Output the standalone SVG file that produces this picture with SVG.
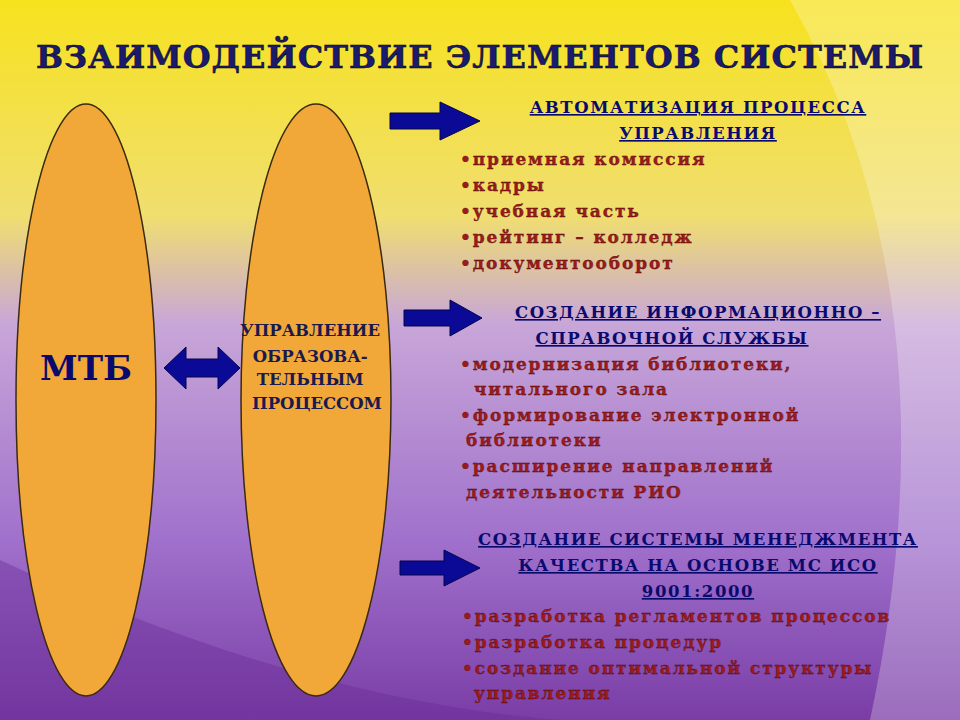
<svg xmlns="http://www.w3.org/2000/svg" width="960" height="720" viewBox="0 0 960 720">
<defs>
<linearGradient id="bg" x1="0" y1="0" x2="0" y2="1">
<stop offset="0" stop-color="#f7e21e"/>
<stop offset="0.3" stop-color="#f0de70"/>
<stop offset="0.45" stop-color="#c8a6d8"/>
<stop offset="0.75" stop-color="#a071cc"/>
<stop offset="1" stop-color="#7a3da6"/>
</linearGradient>
<style>
.ov{fill:#f2a838;stroke:#3a2a10;stroke-width:1.5}
.t{font-family:"DejaVu Serif",serif;font-weight:bold}
.h{font-family:"DejaVu Serif",serif;font-weight:bold;font-size:16.5px;letter-spacing:1.6px;fill:#0a0a6e;text-decoration:underline;text-anchor:middle}
.b{font-family:"DejaVu Serif",serif;font-weight:bold;font-size:17px;letter-spacing:1.9px;fill:#9e1a1a;stroke:#4a0a0a;stroke-width:0.3}
.ar{fill:#0a0a96;stroke:#05054a;stroke-width:1}
</style>
</defs>
<rect width="960" height="720" fill="url(#bg)"/>
<path d="M790 0 Q960 300 870 720 L960 720 L960 0 Z" fill="#ffffff" opacity="0.25"/>
<path d="M0 560 Q300 700 560 720 L0 720 Z" fill="#6a2a96" opacity="0.4"/>
<text class="t" x="480" y="68" font-size="32" letter-spacing="1" fill="#1a1a6e" text-anchor="middle" stroke="#000" stroke-width="0.5">ВЗАИМОДЕЙСТВИЕ ЭЛЕМЕНТОВ СИСТЕМЫ</text>
<g id="mtb">
<ellipse class="ov" cx="86" cy="400" rx="70" ry="296"/>
<text class="t" x="86" y="380" font-size="34" fill="#0a0a6e" text-anchor="middle">МТБ</text>
</g>
<g id="upr">
<ellipse class="ov" cx="316" cy="400" rx="75" ry="296"/>
<text class="t" font-size="16.5" fill="#1a1a4e" text-anchor="middle">
<tspan x="313" y="336">УПРАВЛЕНИЕ</tspan>
<tspan x="313" y="362">ОБРАЗОВА-</tspan>
<tspan x="313" y="385">ТЕЛЬНЫМ</tspan>
<tspan x="317" y="409">ПРОЦЕССОМ</tspan>
</text>
</g>
<g id="connectors">
<polygon class="ar" points="164,368 186,347 186,359 218,359 218,347 240,368 218,389 218,377 186,377 186,389"/>
<polygon class="ar" points="390,113 440,113 440,102 480,121 440,140 440,129 390,129"/>
<polygon class="ar" points="404,310 450,310 450,300 482,318 450,336 450,326 404,326"/>
<polygon class="ar" points="400,561 444,561 444,550 480,568 444,586 444,575 400,575"/>
</g>
<g id="block1">
<text class="h"><tspan x="698" y="113">АВТОМАТИЗАЦИЯ ПРОЦЕССА</tspan><tspan x="698" y="139">УПРАВЛЕНИЯ</tspan></text>
<text class="b"><tspan x="460" y="165">•приемная комиссия</tspan><tspan x="460" y="191">•кадры</tspan><tspan x="460" y="217">•учебная часть</tspan><tspan x="460" y="243">•рейтинг – колледж</tspan><tspan x="460" y="269">•документооборот</tspan></text>
</g>
<g id="block2">
<text class="h"><tspan x="698" y="318">СОЗДАНИЕ ИНФОРМАЦИОННО –</tspan><tspan x="672" y="344">СПРАВОЧНОЙ СЛУЖБЫ</tspan></text>
<text class="b"><tspan x="460" y="370">•модернизация библиотеки,</tspan><tspan x="474" y="395">читального зала</tspan><tspan x="460" y="421">•формирование электронной</tspan><tspan x="466" y="446">библиотеки</tspan><tspan x="460" y="472">•расширение направлений</tspan><tspan x="466" y="498">деятельности РИО</tspan></text>
</g>
<g id="block3">
<text class="h"><tspan x="698" y="545">СОЗДАНИЕ СИСТЕМЫ МЕНЕДЖМЕНТА</tspan><tspan x="698" y="571">КАЧЕСТВА НА ОСНОВЕ МС ИСО</tspan><tspan x="698" y="597">9001:2000</tspan></text>
<text class="b"><tspan x="462" y="622">•разработка регламентов процессов</tspan><tspan x="462" y="648">•разработка процедур</tspan><tspan x="462" y="674">•создание оптимальной структуры</tspan><tspan x="474" y="699">управления</tspan></text>
</g>
</svg>
